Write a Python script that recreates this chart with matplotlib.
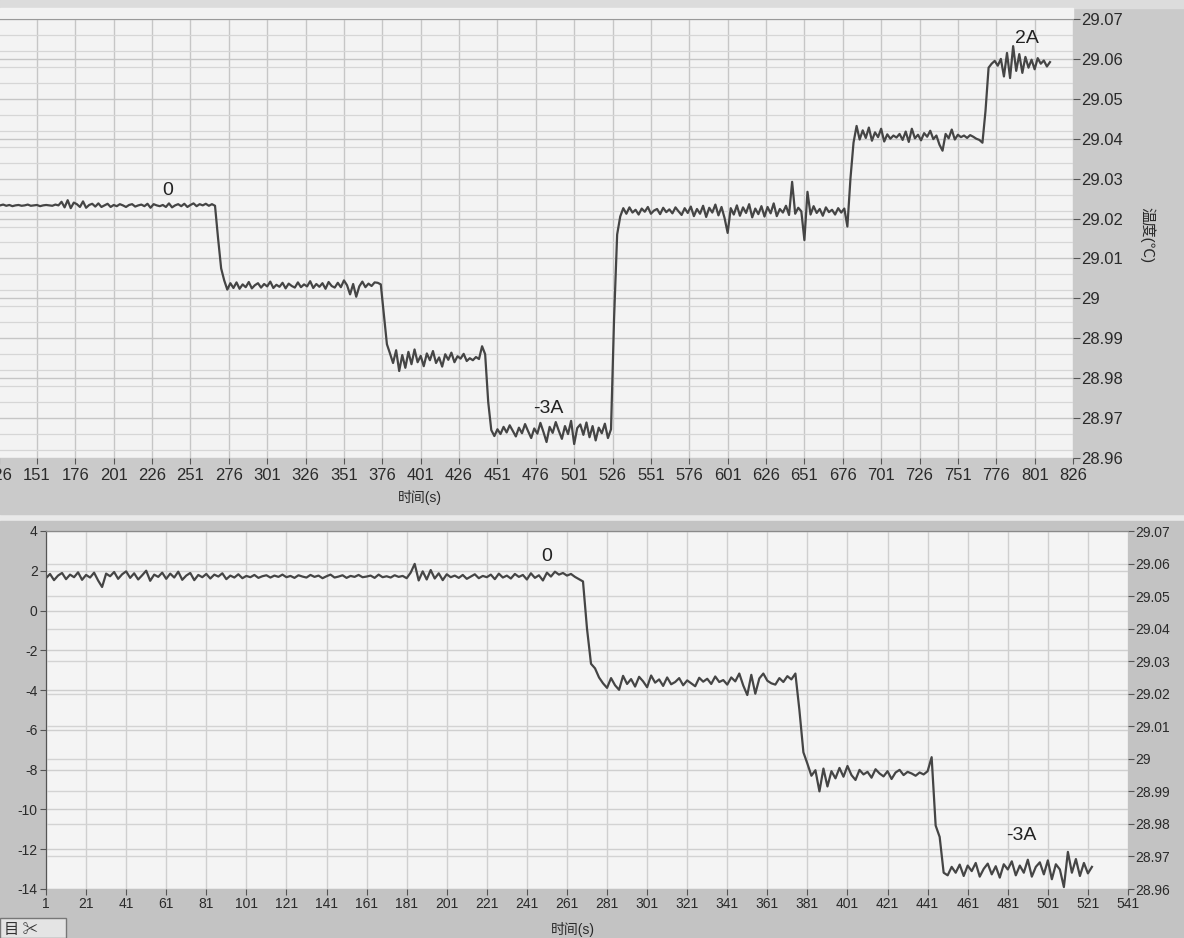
import numpy as np
import matplotlib
matplotlib.use("Agg")
import matplotlib.pyplot as plt
from matplotlib.ticker import FixedLocator, FuncFormatter
from matplotlib.patches import Rectangle

plt.rcParams['font.family'] = ['Liberation Sans', 'Noto Sans CJK SC', 'DejaVu Sans']
plt.rcParams['axes.unicode_minus'] = False

# ---- top chart: temperature (degC), one sample every 2 s, segment start times ----
top_a_t0 = 127
top_a = [29.0233, 29.0235, 29.0232, 29.0234, 29.0231, 29.0233, 29.0234, 29.0232, 29.0233, 29.0235,
         29.0232, 29.0233, 29.0234, 29.0231, 29.0233, 29.0234, 29.0233, 29.0232, 29.0235, 29.0233,
         29.0242, 29.0228, 29.0246, 29.0226, 29.0240, 29.0236, 29.0229, 29.0243, 29.0227, 29.0234,
         29.0237, 29.0230, 29.0238, 29.0229, 29.0233, 29.0237, 29.0229, 29.0234, 29.0231, 29.0236,
         29.0233, 29.0229, 29.0234, 29.0236, 29.0230, 29.0233, 29.0235, 29.0231, 29.0237, 29.0227,
         29.0236, 29.0233, 29.0231, 29.0234, 29.0229, 29.0238, 29.0228, 29.0233, 29.0236, 29.0231,
         29.0237, 29.0229, 29.0234, 29.0238, 29.0231, 29.0236, 29.0233, 29.0237, 29.0232, 29.0236]
top_b_t0 = 267
top_b = [29.0232, 29.0150, 29.0075, 29.0045, 29.0022, 29.0038, 29.0026, 29.0040, 29.0024, 29.0035,
         29.0028, 29.0041, 29.0025, 29.0033, 29.0038, 29.0027, 29.0036, 29.0030, 29.0042, 29.0026,
         29.0034, 29.0029, 29.0039, 29.0025, 29.0037, 29.0031, 29.0027, 29.0040, 29.0028, 29.0035,
         29.0030, 29.0043, 29.0026, 29.0036, 29.0029, 29.0038, 29.0024, 29.0041, 29.0031, 29.0027,
         29.0039, 29.0028, 29.0045, 29.0033, 29.0010, 29.0036, 29.0004, 29.0030, 29.0042, 29.0028,
         29.0037, 29.0031, 29.0040, 29.0039]
top_c_t0 = 375
top_c = [29.0035, 28.9960, 28.9885, 28.9862, 28.9838, 28.9870, 28.9818, 28.9858, 28.9826, 28.9866,
         28.9835, 28.9872, 28.9840, 28.9856, 28.9830, 28.9862, 28.9845, 28.9868, 28.9838, 28.9852,
         28.9829, 28.9860, 28.9846, 28.9864, 28.9840, 28.9855, 28.9849, 28.9861, 28.9843, 28.9850,
         28.9845, 28.9853, 28.9848, 28.9880]
top_d_t0 = 443
top_d = [28.9860, 28.9740, 28.9670, 28.9655, 28.9672, 28.9660, 28.9678, 28.9664, 28.9682, 28.9668,
         28.9654, 28.9676, 28.9662, 28.9685, 28.9667, 28.9650, 28.9674, 28.9661, 28.9688, 28.9665,
         28.9640, 28.9678, 28.9663, 28.9690, 28.9668, 28.9648, 28.9680, 28.9660, 28.9693, 28.9635,
         28.9675, 28.9684, 28.9658, 28.9689, 28.9652, 28.9680, 28.9644, 28.9676, 28.9662, 28.9686,
         28.9650, 28.9672]
top_e_t0 = 527
top_e = [28.9950, 29.0160, 29.0205, 29.0226, 29.0212, 29.0228, 29.0215, 29.0222, 29.0210, 29.0225,
         29.0217, 29.0229, 29.0212, 29.0220, 29.0224, 29.0211, 29.0227, 29.0216, 29.0223, 29.0213,
         29.0228, 29.0218, 29.0209, 29.0226, 29.0214, 29.0230, 29.0206, 29.0224, 29.0212, 29.0232,
         29.0204, 29.0227, 29.0215, 29.0235, 29.0208, 29.0229, 29.0201, 29.0164, 29.0226, 29.0210,
         29.0233, 29.0207, 29.0228, 29.0214, 29.0236, 29.0203, 29.0225, 29.0211, 29.0231, 29.0205,
         29.0229, 29.0213, 29.0238, 29.0206, 29.0224, 29.0215, 29.0232, 29.0209, 29.0292, 29.0212,
         29.0227, 29.0218, 29.0146, 29.0267, 29.0210, 29.0231, 29.0214, 29.0224, 29.0207, 29.0228,
         29.0216, 29.0222, 29.0210, 29.0226, 29.0215, 29.0225, 29.0180]
top_f_t0 = 681
top_f = [29.0300, 29.0390, 29.0432, 29.0398, 29.0421, 29.0402, 29.0428, 29.0395, 29.0416, 29.0404,
         29.0425, 29.0393, 29.0411, 29.0400, 29.0408, 29.0403, 29.0412, 29.0397, 29.0418, 29.0392,
         29.0425, 29.0401, 29.0410, 29.0396, 29.0414, 29.0405, 29.0420, 29.0399, 29.0408, 29.0385,
         29.0370, 29.0412, 29.0401, 29.0423, 29.0398, 29.0410, 29.0404, 29.0408, 29.0402, 29.0409,
         29.0405, 29.0400, 29.0397, 29.0390]
top_g_t0 = 769
top_g = [29.0470, 29.0578, 29.0588, 29.0595, 29.0583, 29.0600, 29.0556, 29.0615, 29.0552, 29.0632,
         29.0570, 29.0612, 29.0565, 29.0605, 29.0578, 29.0598, 29.0574, 29.0602, 29.0588, 29.0596,
         29.0581, 29.0592]

# ---- bottom chart ----
bot_p_t0 = 1
bot_p = [29.0555, 29.0568, 29.0549, 29.0563, 29.0571, 29.0552, 29.0566, 29.0558, 29.0573, 29.0550,
         29.0565, 29.0557, 29.0572, 29.0548, 29.0528, 29.0569, 29.0561, 29.0574, 29.0553, 29.0567,
         29.0576, 29.0556, 29.0570, 29.0551, 29.0564, 29.0578, 29.0547, 29.0566, 29.0559, 29.0572,
         29.0553, 29.0569, 29.0557, 29.0575, 29.0550, 29.0563, 29.0571, 29.0549, 29.0565, 29.0558,
         29.0568, 29.0554, 29.0566, 29.0560, 29.0570, 29.0552, 29.0563, 29.0557, 29.0567, 29.0555,
         29.0562, 29.0558, 29.0565, 29.0556, 29.0561, 29.0564, 29.0557, 29.0563, 29.0559, 29.0566,
         29.0558, 29.0562, 29.0556, 29.0564, 29.0560, 29.0557, 29.0565, 29.0559, 29.0563, 29.0555,
         29.0561, 29.0566, 29.0557, 29.0560, 29.0564, 29.0556, 29.0562, 29.0559, 29.0565, 29.0558,
         29.0560, 29.0563, 29.0556, 29.0566, 29.0558, 29.0561, 29.0557, 29.0564, 29.0559, 29.0562,
         29.0555, 29.0572, 29.0599, 29.0548, 29.0576, 29.0551, 29.0580, 29.0554, 29.0570, 29.0549,
         29.0567, 29.0558, 29.0563, 29.0556, 29.0565, 29.0553, 29.0560, 29.0567, 29.0555, 29.0562,
         29.0558, 29.0566, 29.0552, 29.0569, 29.0557, 29.0563, 29.0554, 29.0568, 29.0559, 29.0565,
         29.0551, 29.0570, 29.0556, 29.0564, 29.0548, 29.0572, 29.0560, 29.0575, 29.0566, 29.0571,
         29.0563, 29.0568, 29.0559, 29.0552]
bot_q_t0 = 269
bot_q = [29.0545, 29.0400, 29.0292, 29.0278, 29.0250, 29.0232, 29.0218, 29.0248, 29.0226, 29.0212,
         29.0255, 29.0230, 29.0245, 29.0222, 29.0252, 29.0238, 29.0220, 29.0256, 29.0234, 29.0244,
         29.0224, 29.0250, 29.0229, 29.0236, 29.0248, 29.0226, 29.0241, 29.0232, 29.0223, 29.0249,
         29.0237, 29.0246, 29.0230, 29.0253, 29.0236, 29.0242, 29.0228, 29.0250, 29.0238, 29.0262,
         29.0225, 29.0196, 29.0258, 29.0200, 29.0247, 29.0262, 29.0240, 29.0232, 29.0228, 29.0248,
         29.0236, 29.0254, 29.0244, 29.0262]
bot_r_t0 = 377
bot_r = [29.0150, 29.0020, 28.9985, 28.9948, 28.9965, 28.9900, 28.9970, 28.9915, 28.9962, 28.9940,
         28.9972, 28.9945, 28.9978, 28.9950, 28.9935, 28.9966, 28.9952, 28.9960, 28.9942, 28.9968,
         28.9955, 28.9946, 28.9962, 28.9938, 28.9958, 28.9966, 28.9950, 28.9960, 28.9955, 28.9948,
         28.9958, 28.9952, 28.9962, 29.0005]
bot_s_t0 = 445
bot_s = [28.9795, 28.9760, 28.9650, 28.9642, 28.9668, 28.9650, 28.9675, 28.9640, 28.9672, 28.9655,
         28.9680, 28.9638, 28.9662, 28.9678, 28.9645, 28.9670, 28.9635, 28.9676, 28.9660, 28.9685,
         28.9642, 28.9672, 28.9650, 28.9690, 28.9638, 28.9668, 28.9682, 28.9645, 28.9688, 28.9630,
         28.9676, 28.9660, 28.9606, 28.9714, 28.9650, 28.9692, 28.9640, 28.9680, 28.9648, 28.9668]

top_ticks = list(range(126, 827, 25))
bot_ticks = list(range(1, 542, 20))
temp_ticks = [28.96, 28.97, 28.98, 28.99, 29.0, 29.01, 29.02, 29.03, 29.04, 29.05, 29.06, 29.07]
left_ticks = list(range(-14, 5, 2))


def join(segments, step=2):
    ts, vs = [], []
    for t0, vals in segments:
        ts.append(t0 + step * np.arange(len(vals)))
        vs.append(np.array(vals))
    return np.concatenate(ts), np.concatenate(vs)


top_t, top_v = join([(top_a_t0, top_a), (top_b_t0, top_b), (top_c_t0, top_c), (top_d_t0, top_d),
                     (top_e_t0, top_e), (top_f_t0, top_f), (top_g_t0, top_g)])
bot_t, bot_v = join([(bot_p_t0, bot_p), (bot_q_t0, bot_q), (bot_r_t0, bot_r), (bot_s_t0, bot_s)])

W, H = 1184, 938
fig = plt.figure(figsize=(W / 100, H / 100), dpi=100, facecolor='#e9e9e9')
# panel backgrounds (behind the axes)
fig.patches.append(Rectangle((0, 1 - 514 / H), 1, 514 / H, transform=fig.transFigure,
                             color='#cacaca', zorder=-5))
fig.patches.append(Rectangle((0, 0), 1, 1 - 521 / H, transform=fig.transFigure,
                             color='#c3c3c3', zorder=-5))
# light strip at the very top of the screen and white margin above the top plot
fig.patches.append(Rectangle((0, 1 - 8 / H), 1, 8 / H, transform=fig.transFigure,
                             color='#dcdcdc', zorder=-4))
fig.patches.append(Rectangle((0, 1 - 19 / H), 1073 / W, 11 / H, transform=fig.transFigure,
                             color='#f3f3f3', zorder=-4))

fmt = FuncFormatter(lambda v, p: f'{v:.2f}'.rstrip('0').rstrip('.'))
line_kw = dict(color='#454545', lw=1.6)

# top chart
ax1 = fig.add_axes([-1.4 / W, 1 - 458 / H, 1074.4 / W, 439 / H])
ax1.set_facecolor('#f3f3f3')
ax1.plot(top_t, top_v, **line_kw)
ax1.set_xlim(126, 826)
ax1.set_ylim(28.96, 29.07)
ax1.yaxis.tick_right()
ax1.set_xticks(top_ticks)
ax1.set_yticks(temp_ticks)
ax1.yaxis.set_major_formatter(fmt)
ax1.yaxis.set_minor_locator(FixedLocator(np.arange(28.962, 29.07, 0.004)))
ax1.grid(which='major', color='#c6c6c6', lw=1.0)
ax1.grid(which='minor', axis='y', color='#d6d6d6', lw=0.9)
ax1.tick_params(which='minor', length=0)
ax1.tick_params(axis='x', length=4, color='#555555', labelsize=12, pad=3, labelcolor='#2a2a2a')
ax1.tick_params(axis='y', length=5, color='#555555', labelsize=12, pad=1, labelcolor='#2a2a2a')
for s in ['left', 'bottom', 'right']:
    ax1.spines[s].set_visible(False)
ax1.spines['top'].set_color('#9a9a9a')
ax1.text(236, 29.0271, '0', fontsize=14, ha='center', va='center', color='#222222')
ax1.text(484, 28.9725, '-3A', fontsize=14, ha='center', va='center', color='#222222')
ax1.text(796, 29.0652, '2A', fontsize=14, ha='center', va='center', color='#222222')
fig.text(420 / W, 1 - 497 / H, '时间(s)', fontsize=10, ha='center', va='center', color='#2a2a2a')
fig.text(1147 / W, 1 - 235 / H, '温度(℃)', fontsize=11, rotation=270, ha='center', va='center',
         color='#2a2a2a')

# bottom chart
ax2 = fig.add_axes([46 / W, 1 - 889 / H, 1082 / W, 358 / H])
ax2.set_facecolor('#f4f4f4')
ax2.set_xlim(1, 541)
ax2.set_ylim(-14, 4)
ax2.set_xticks(bot_ticks)
ax2.set_yticks(left_ticks)
ax2.grid(color='#cfcfcf', lw=1.0)
ax2.tick_params(length=4, color='#555555', labelsize=10, pad=2, labelcolor='#2a2a2a')
ax3 = ax2.twinx()
ax3.plot(bot_t, bot_v, **line_kw)
ax3.set_ylim(28.96, 29.07)
ax3.set_yticks(temp_ticks)
ax3.yaxis.set_major_formatter(fmt)
ax3.grid(axis='y', color='#d3d3d3', lw=1.0)
ax3.tick_params(length=4, color='#555555', labelsize=10, pad=1, labelcolor='#2a2a2a')
for a in (ax2, ax3):
    a.spines['top'].set_color('#8a8a8a')
    a.spines['right'].set_visible(False)
    a.spines['bottom'].set_visible(False)
    a.spines['left'].set_color('#555555')
ax3.text(251, 29.0623, '0', fontsize=14, ha='center', va='center', color='#222222')
ax3.text(488, 28.9763, '-3A', fontsize=14, ha='center', va='center', color='#222222')
fig.text(573 / W, 1 - 929 / H, '时间(s)', fontsize=10, ha='center', va='center', color='#2a2a2a')

# little toolbar tab in the lower left corner
fig.patches.append(Rectangle((0, 0), 66 / W, 20 / H, transform=fig.transFigure,
                             facecolor='#e4e4e4', edgecolor='#777777', lw=1, zorder=2))
fig.text(4 / W, 9 / H, '目 ✂', fontsize=11, ha='left', va='center', color='#333333',
         family=['Noto Sans CJK SC', 'DejaVu Sans'])

fig.savefig('out.png', dpi=100, facecolor=fig.get_facecolor())
